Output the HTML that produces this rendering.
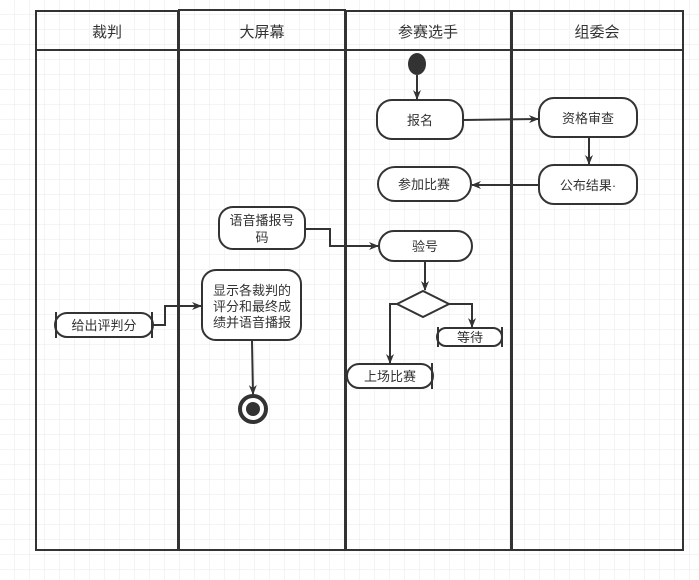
<!DOCTYPE html>
<html><head><meta charset="utf-8"><style>
html,body{margin:0;padding:0;background:#fff}
svg{display:block}
text{font-family:"Liberation Sans","Noto Sans CJK SC",sans-serif;fill:#333}
</style></head><body>
<svg width="699" height="580" viewBox="0 0 699 580" xmlns="http://www.w3.org/2000/svg">
<defs>
<pattern id="g" width="15" height="15" patternUnits="userSpaceOnUse">
<path d="M15 0V15M0 15H15" stroke="#e8e8e8" stroke-width="1" fill="none"/>
</pattern>
<marker id="a" markerWidth="10" markerHeight="10" refX="9" refY="5" orient="auto" markerUnits="userSpaceOnUse">
<path d="M0,1 L10,5 L0,9 L3,5 Z" fill="#333"/>
</marker>
</defs>
<rect width="699" height="580" fill="url(#g)"/>
<g fill="#fff" stroke="#333" stroke-width="2">
<rect x="36" y="11" width="142" height="539"/>
<rect x="179" y="10" width="166" height="540"/>
<rect x="346" y="11" width="165" height="539"/>
<rect x="512" y="11" width="171" height="539"/>
</g>
<rect width="699" height="580" fill="url(#g)" opacity="0.9"/>
<g fill="none" stroke="#333" stroke-width="2">
<rect x="36" y="11" width="142" height="539"/>
<rect x="179" y="10" width="166" height="540"/>
<rect x="346" y="11" width="165" height="539"/>
<rect x="512" y="11" width="171" height="539"/>
<path d="M36 50H683"/>
</g>
<g font-size="15" text-anchor="middle">
<text x="107" y="37">裁判</text>
<text x="262" y="37">大屏幕</text>
<text x="428" y="37">参赛选手</text>
<text x="597" y="37">组委会</text>
</g>
<ellipse cx="417" cy="64" rx="9" ry="11" fill="#333"/>
<g fill="#fff" stroke="#333" stroke-width="2">
<rect x="377" y="100" width="86" height="39" rx="15"/>
<rect x="539" y="98" width="98" height="39" rx="15"/>
<rect x="539" y="165" width="98" height="39" rx="15"/>
<rect x="378" y="167" width="93" height="34" rx="17"/>
<rect x="219" y="207" width="86" height="42" rx="14"/>
<rect x="379" y="231" width="93" height="30" rx="15"/>
<path d="M397 304 L423 291 L449 304 L423 317 Z"/>
<rect x="437" y="328" width="65" height="18" rx="9"/>
<rect x="347" y="364" width="86" height="24" rx="12"/>
<rect x="55" y="313" width="98" height="24" rx="12"/>
<rect x="202" y="270" width="99" height="70" rx="14"/>
<circle cx="253" cy="409" r="13" stroke-width="4"/>
</g>
<circle cx="253" cy="409" r="7" fill="#333"/>
<g stroke="#333" stroke-width="2">
<path d="M438 327V347M502 327V347M56 312V338M152 312V338M432 363V389"/>
</g>
<g fill="none" stroke="#333" stroke-width="2" marker-end="url(#a)">
<path d="M417 75V99"/>
<path d="M463 120L538 119"/>
<path d="M589 137V164"/>
<path d="M539 185H472"/>
<path d="M305 229H330V246H378"/>
<path d="M425 262V290"/>
<path d="M397 304H390V363"/>
<path d="M449 304H472V327"/>
<path d="M153 325H165V306H201"/>
<path d="M252 341L253 394"/>
</g>
<g font-size="13" text-anchor="middle">
<text x="420" y="125">报名</text>
<text x="588" y="123">资格审查</text>
<text x="588" y="190">公布结果·</text>
<text x="424" y="189">参加比赛</text>
<text x="262" y="225">语音播报号</text>
<text x="262" y="242">码</text>
<text x="425" y="251">验号</text>
<text x="470" y="342">等待</text>
<text x="390" y="381">上场比赛</text>
<text x="104" y="330">给出评判分</text>
<text x="252" y="295">显示各裁判的</text>
<text x="252" y="311">评分和最终成</text>
<text x="252" y="327">绩并语音播报</text>
</g>
</svg>
</body></html>
